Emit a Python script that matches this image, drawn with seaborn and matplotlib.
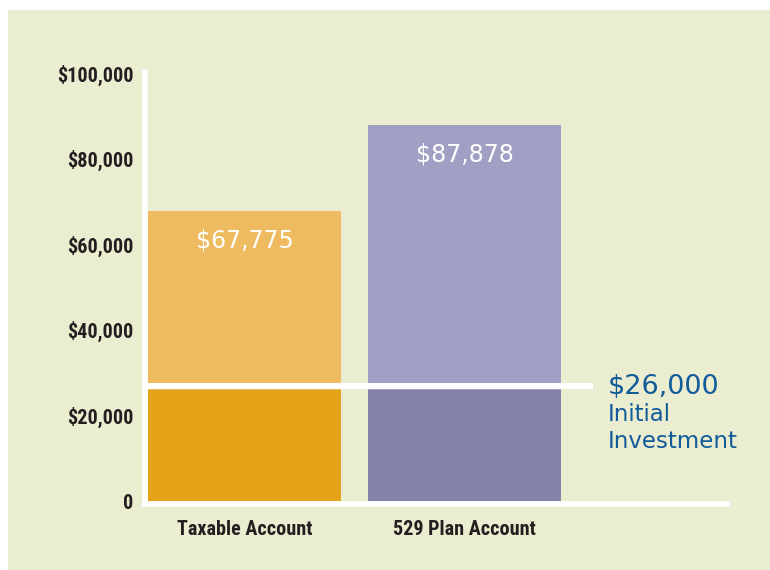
import matplotlib
matplotlib.use("Agg")
import matplotlib.pyplot as plt
import matplotlib.transforms as mtransforms
from matplotlib import font_manager
from matplotlib.patches import Rectangle
import seaborn as sns

# data
accounts = ["Taxable Account", "529 Plan Account"]
final_values = [67775, 87878]
initial_values = [26000, 26000]
value_labels = ["$67,775", "$87,878"]
yticks = [0, 20000, 40000, 60000, 80000, 100000]
ytick_labels = ["0", "$20,000", "$40,000", "$60,000", "$80,000", "$100,000"]

light_colors = ["#eebb60", "#a19fc3"]
dark_colors = ["#e5a31a", "#8481ab"]
bg = "#eaedcf"
blue = "#125b9b"

# pick a narrow font for the axis labels if one is around
installed = {f.name for f in font_manager.fontManager.ttflist}
condensed = {f.name for f in font_manager.fontManager.ttflist
             if str(f.stretch) in ("condensed", "semi-condensed", "75", "87")}
narrow_family = "DejaVu Sans"
narrow_stretch = "normal"
for name in ["Roboto Condensed", "Liberation Sans Narrow", "Open Sans Condensed",
             "Noto Sans Condensed", "DejaVu Sans Condensed"]:
    if name in installed:
        narrow_family = name
        break
else:
    if "DejaVu Sans" in condensed:
        narrow_stretch = "condensed"

sns.set_style("white")
plt.rcParams["font.family"] = [narrow_family, "DejaVu Sans"]

fig = plt.figure(figsize=(7.7, 5.7), dpi=100)
fig.patch.set_facecolor("white")
fig.patches.append(Rectangle((8 / 770, 0), 1, 560 / 570, transform=fig.transFigure,
                             facecolor=bg, edgecolor="none", zorder=-1))

ax = fig.add_axes([145 / 770, 66 / 570, 582 / 770, 432 / 570])
ax.set_facecolor("none")

sns.barplot(x=accounts, y=final_values, hue=accounts, palette=light_colors,
            width=0.877, saturation=1, legend=False, ax=ax, zorder=1, linewidth=0)
sns.barplot(x=accounts, y=initial_values, hue=accounts, palette=dark_colors,
            width=0.877, saturation=1, legend=False, ax=ax, zorder=1, linewidth=0)

ax.set_xlim(-0.452, 2.193)
ax.set_ylim(-700, 100260)

# white line marking the initial investment
ax.axhline(initial_values[0] + 800, xmin=0, xmax=0.77, color="white", lw=4.3, zorder=3,
           solid_capstyle="butt")

for spine in ["top", "right"]:
    ax.spines[spine].set_visible(False)
for spine in ["left", "bottom"]:
    ax.spines[spine].set_color("white")
    ax.spines[spine].set_linewidth(4.0)
    ax.spines[spine].set_zorder(4)

ax.set_yticks(yticks)
ax.set_yticklabels(ytick_labels)
ax.tick_params(axis="both", length=0, labelsize=14.5, labelcolor="#231f20")
ax.tick_params(axis="y", pad=8.5)
ax.tick_params(axis="x", pad=11.5)
for lab in ax.get_xticklabels() + ax.get_yticklabels():
    lab.set_fontweight("bold")
    lab.set_fontstretch(narrow_stretch)
ax.set_xlabel("")
ax.set_ylabel("")

for i, (v, lab) in enumerate(zip(final_values, value_labels)):
    ax.annotate(lab, xy=(i, v), xytext=(0, -21.5), textcoords="offset points",
                ha="center", va="center", color="white", fontsize=17,
                family="DejaVu Sans", zorder=5)

trans = mtransforms.blended_transform_factory(ax.transAxes, ax.transData)
ax.annotate("$26,000", xy=(0.7955, initial_values[0]), xycoords=trans,
            xytext=(0, 2), textcoords="offset points", ha="left", va="center",
            color=blue, fontsize=19.5, family="DejaVu Sans")
ax.annotate("Initial", xy=(0.7955, initial_values[0]), xycoords=trans,
            xytext=(0, -18), textcoords="offset points", ha="left", va="center",
            color=blue, fontsize=16.5, family="DejaVu Sans")
ax.annotate("Investment", xy=(0.7955, initial_values[0]), xycoords=trans,
            xytext=(0, -37.5), textcoords="offset points", ha="left", va="center",
            color=blue, fontsize=16.5, family="DejaVu Sans")

fig.savefig("out.png", dpi=100)
